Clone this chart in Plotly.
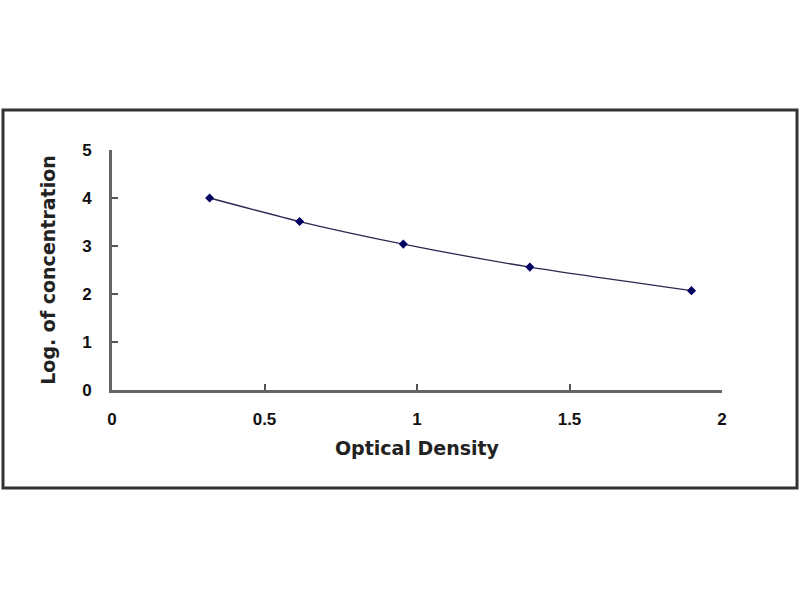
import plotly.graph_objects as go

optical_density = [0.32, 0.615, 0.955, 1.37, 1.90]
log_concentration = [4.0, 3.51, 3.04, 2.56, 2.07]

x_ticks = [0, 0.5, 1, 1.5, 2]
x_tick_labels = ["0", "0.5", "1", "1.5", "2"]
y_ticks = [0, 1, 2, 3, 4, 5]
y_tick_labels = ["0", "1", "2", "3", "4", "5"]

fig = go.Figure()
fig.add_trace(go.Scatter(
    x=optical_density, y=log_concentration,
    mode="lines+markers",
    line=dict(color="#2a2a50", width=1.3, shape="spline", smoothing=0.6),
    marker=dict(symbol="diamond", size=7, color="#000060"),
    showlegend=False,
))

font_tick = dict(family="Arial, Liberation Sans", size=17, color="#111111")
title_font = dict(family="DejaVu Sans", size=19, color="#222222")
fig.update_layout(
    width=800, height=600,
    margin=dict(l=112, r=78, t=150, b=210),
    paper_bgcolor="white", plot_bgcolor="white",
    xaxis=dict(
        range=[0, 2], tickvals=x_ticks, ticktext=[f"<b>{t}</b>" for t in x_tick_labels],
        ticks="inside", ticklen=6, tickwidth=2, tickcolor="#555555",
        showline=True, linecolor="#666666", linewidth=3, showgrid=False, zeroline=False,
        tickfont=font_tick, ticklabelstandoff=12,
        title=dict(text="<b>Optical Density</b>", font=title_font, standoff=14),
    ),
    yaxis=dict(
        range=[0, 5], tickvals=y_ticks, ticktext=[f"<b>{t}</b>" for t in y_tick_labels],
        ticks="inside", ticklen=6, tickwidth=2, tickcolor="#555555",
        showline=True, linecolor="#666666", linewidth=3, showgrid=False, zeroline=False,
        tickfont=font_tick, ticklabelstandoff=14,
        title=dict(text="<b>Log. of concentration</b>", font=title_font, standoff=22),
    ),
    shapes=[dict(
        type="rect", xref="paper", yref="paper",
        x0=-0.1787, x1=1.1230, y0=-0.4083, y1=1.1667,
        line=dict(color="#333333", width=3), layer="below",
    )],
)

fig.write_html("out.html", config={"displayModeBar": False},
               post_script="document.body.style.margin='0';")
